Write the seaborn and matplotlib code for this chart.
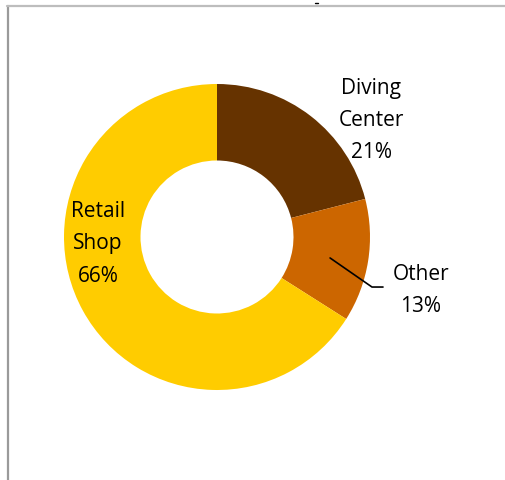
import matplotlib
matplotlib.use("Agg")
import matplotlib.pyplot as plt
import seaborn as sns
from matplotlib.lines import Line2D

# data
categories = ['Diving Center', 'Other', 'Retail Shop']
shares = [21, 13, 66]
colors = ['#663300', '#CC6600', '#FFCC00']

sns.set_theme(style="white")
plt.rcParams['font.family'] = ['Open Sans', 'DejaVu Sans']

fig = plt.figure(figsize=(5.05, 4.8), dpi=100)
ax = fig.add_axes([0, 0, 1, 1])

# donut, clockwise from 12 o'clock
ax.pie(shares, colors=colors, startangle=90, counterclock=False,
       radius=1, wedgeprops=dict(width=0.5, edgecolor='none'))

# 1 data unit = 153 px, centre at (217, 237) px
cx, cy, r = 217, 237, 153
ax.set_xlim(-cx / r, (505 - cx) / r)
ax.set_ylim((cy - 480) / r, cy / r)
ax.set_aspect('auto')
ax.axis('off')

fs = 15
ls = 1.7
ax.text(1.007, 0.762, 'Diving\nCenter\n21%', ha='center', va='center',
        fontsize=fs, linespacing=ls, color='black')
ax.text(1.333, -0.35, 'Other\n13%', ha='center', va='center',
        fontsize=fs, linespacing=ls, color='black')
ax.text(-0.778, -0.045, 'Retail\nShop\n66%', ha='center', va='center',
        fontsize=fs, linespacing=ls, color='black')

# leader line for the small slice
ax.plot([0.739, 1.013, 1.085], [-0.137, -0.327, -0.327], color='black', lw=1.2)

# frame lines on left and top
fig.add_artist(Line2D([7.5 / 505, 7.5 / 505], [0, 1 - 6 / 480],
                      transform=fig.transFigure, color='#9a9a9a', lw=1.6))
fig.add_artist(Line2D([7 / 505, 1], [1 - 6 / 480, 1 - 6 / 480],
                      transform=fig.transFigure, color='#bdbdbd', lw=1.6))
fig.add_artist(Line2D([315 / 505, 318 / 505], [1 - 2.5 / 480, 1 - 2.5 / 480],
                      transform=fig.transFigure, color='black', lw=1))

fig.savefig('out.png', dpi=100, facecolor='white')
